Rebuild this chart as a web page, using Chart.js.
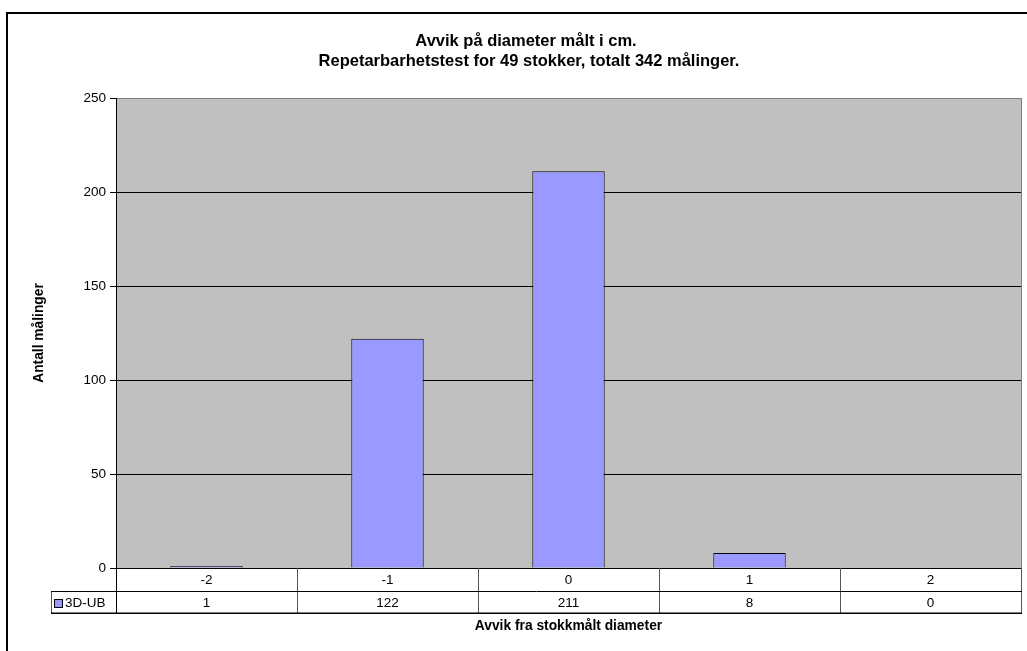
<!DOCTYPE html>
<html>
<head>
<meta charset="utf-8">
<title>Avvik på diameter</title>
<script src="https://cdn.jsdelivr.net/npm/chart.js@4/dist/chart.umd.min.js"></script>
<style>
  html, body { margin: 0; padding: 0; background: #fff; }
  #wrap { width: 1027px; height: 651px; }
</style>
</head>
<body>
<div id="wrap"><canvas id="c" width="1027" height="651"></canvas></div>
<script>
// Measurement results: deviation (cm) vs. number of measurements
const categories = ['-2', '-1', '0', '1', '2'];
const seriesName = '3D-UB';
const counts = [1, 122, 211, 8, 0];
const titleLines = ['Avvik på diameter målt i cm.', 'Repetarbarhetstest for 49 stokker, totalt 342 målinger.'];
const yTitle = 'Antall målinger';
const xTitle = 'Avvik fra stokkmålt diameter';
const yMax = 250;
const yStep = 50;

const FONT = "'Liberation Sans', Arial, Helvetica, sans-serif";
const BAR_FILL = '#9999FF';
const PLOT_BG = '#C0C0C0';

Chart.defaults.font.family = FONT;
Chart.defaults.color = '#000';

// Frame, plot background, data table and titles
const decorations = {
  id: 'decorations',
  beforeDraw(chart) {
    const ctx = chart.ctx;
    const a = chart.chartArea;
    ctx.save();
    ctx.fillStyle = '#fff';
    ctx.fillRect(0, 0, chart.width, chart.height);
    // outer chart frame
    ctx.strokeStyle = '#000';
    ctx.lineWidth = 2;
    ctx.beginPath();
    ctx.moveTo(7, chart.height + 2);
    ctx.lineTo(7, 13);
    ctx.lineTo(chart.width + 2, 13);
    ctx.stroke();
    // plot area background
    ctx.fillStyle = PLOT_BG;
    ctx.fillRect(a.left, a.top, a.right - a.left, a.bottom - a.top);
    ctx.restore();
  },
  afterDraw(chart) {
    const ctx = chart.ctx;
    const a = chart.chartArea;
    const xs = chart.scales.x;
    ctx.save();

    // right edge of plot area
    ctx.strokeStyle = '#808080';
    ctx.lineWidth = 1;
    ctx.beginPath();
    ctx.moveTo(a.right + 0.5, a.top);
    ctx.lineTo(a.right + 0.5, a.bottom);
    ctx.stroke();

    // chart title
    ctx.fillStyle = '#000';
    ctx.textAlign = 'center';
    ctx.textBaseline = 'middle';
    ctx.font = 'bold 16.5px ' + FONT;
    ctx.fillText(titleLines[0], 526, 41);
    ctx.fillText(titleLines[1], 529, 61);

    // data table below the axis
    const row1Top = a.bottom;
    const row2Top = a.bottom + 23;
    const tableBottom = a.bottom + 45;
    const legendLeft = 51;

    const centers = categories.map((_, i) => xs.getPixelForTick(i));
    const bounds = [a.left];
    for (let i = 0; i < centers.length - 1; i++) bounds.push((centers[i] + centers[i + 1]) / 2);
    bounds.push(a.right);

    ctx.lineWidth = 1;
    ctx.strokeStyle = '#555';
    ctx.beginPath();
    bounds.forEach((b, i) => {
      const x = Math.round(b) + 0.5;
      if (i === 0) return;
      ctx.moveTo(x, row1Top);
      ctx.lineTo(x, tableBottom);
    });
    ctx.moveTo(legendLeft + 0.5, row2Top);
    ctx.lineTo(legendLeft + 0.5, tableBottom);
    ctx.stroke();

    ctx.strokeStyle = '#000';
    ctx.beginPath();
    ctx.moveTo(Math.round(a.left) + 0.5, row1Top);
    ctx.lineTo(Math.round(a.left) + 0.5, tableBottom);
    ctx.moveTo(legendLeft, row2Top + 0.5);
    ctx.lineTo(a.right + 1, row2Top + 0.5);
    ctx.stroke();

    ctx.lineWidth = 1.5;
    ctx.beginPath();
    ctx.moveTo(legendLeft, tableBottom + 0.25);
    ctx.lineTo(a.right + 1, tableBottom + 0.25);
    ctx.stroke();

    ctx.fillStyle = '#000';
    ctx.font = '13.5px ' + FONT;
    ctx.textAlign = 'center';
    ctx.textBaseline = 'middle';
    categories.forEach((c, i) => ctx.fillText(c, centers[i], row1Top + 12));
    counts.forEach((v, i) => ctx.fillText(String(v), centers[i], row2Top + 12));

    // legend key in the table
    ctx.fillStyle = BAR_FILL;
    ctx.fillRect(54.5, row2Top + 8.5, 8, 8);
    ctx.strokeStyle = '#000';
    ctx.lineWidth = 1;
    ctx.strokeRect(54.5, row2Top + 8.5, 8, 8);
    ctx.fillStyle = '#000';
    ctx.textAlign = 'left';
    ctx.fillText(seriesName, 65, row2Top + 12);

    // x axis title
    ctx.textAlign = 'center';
    ctx.font = 'bold 13.8px ' + FONT;
    ctx.fillText(xTitle, (a.left + a.right) / 2, 626);

    ctx.restore();
  }
};

new Chart(document.getElementById('c'), {
  type: 'bar',
  data: {
    labels: categories,
    datasets: [{
      label: seriesName,
      data: counts,
      backgroundColor: BAR_FILL,
      borderColor: '#000',
      borderWidth: 1,
      categoryPercentage: 1,
      barPercentage: 0.4
    }]
  },
  options: {
    responsive: false,
    animation: false,
    devicePixelRatio: 1,
    layout: { padding: { left: 27, top: 98, right: 6, bottom: 0 } },
    plugins: {
      legend: { display: false },
      tooltip: { enabled: false },
      title: { display: false }
    },
    scales: {
      x: {
        grid: { display: false },
        ticks: { display: false },
        border: { display: false },
        afterFit(s) { s.height = 83; }
      },
      y: {
        min: 0,
        max: yMax,
        ticks: { stepSize: yStep, color: '#000', font: { size: 13.5 }, padding: 4 },
        grid: {
          color: (c) => (c.tick && c.tick.value === yMax ? '#808080' : '#000'),
          tickColor: '#000',
          tickLength: 6,
          lineWidth: 1
        },
        border: { color: '#000', width: 1 },
        title: {
          display: true,
          text: yTitle,
          color: '#000',
          font: { size: 13.8, weight: 'bold' },
          padding: { top: 4, bottom: 4 }
        },
        afterFit(s) { s.width = 89; }
      }
    }
  },
  plugins: [decorations]
});
</script>
</body>
</html>
